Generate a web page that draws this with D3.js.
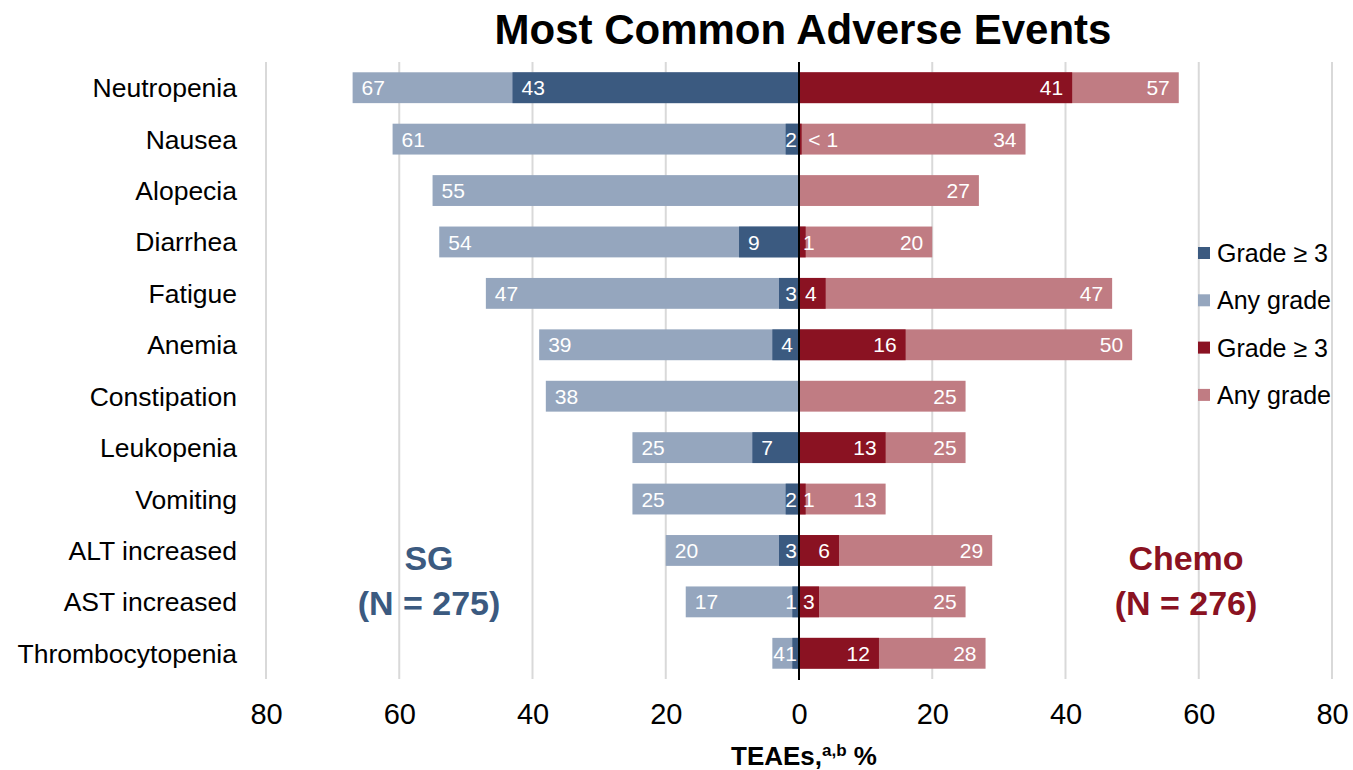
<!DOCTYPE html>
<html>
<head>
<meta charset="utf-8">
<script src="https://cdn.jsdelivr.net/npm/d3@7"></script>
<style>
  body { margin: 0; background: #fff; }
  text { font-family: "Liberation Sans", Arial, sans-serif; }
</style>
</head>
<body>
<div id="chart"></div>
<script>
// adverse events, top to bottom
const categories = ['Neutropenia', 'Nausea', 'Alopecia', 'Diarrhea', 'Fatigue', 'Anemia',
  'Constipation', 'Leukopenia', 'Vomiting', 'ALT increased', 'AST increased', 'Thrombocytopenia'];
const sgAny = [67, 61, 55, 54, 47, 39, 38, 25, 25, 20, 17, 4];
const sgG3 = [43, 2, 0, 9, 3, 4, 0, 7, 2, 3, 1, 1];
const chemoG3 = [41, 0.4, 0, 1, 4, 16, 0, 13, 1, 6, 3, 12];
const chemoG3Labels = ['41', '< 1', '', '1', '4', '16', '', '13', '1', '6', '3', '12'];
const chemoAny = [57, 34, 27, 20, 47, 50, 25, 25, 13, 29, 25, 28];
const ticks = [-80, -60, -40, -20, 0, 20, 40, 60, 80];
const legendItems = ['Grade \u2265 3', 'Any grade', 'Grade \u2265 3', 'Any grade'];

const col = { sgDark: '#3b5a80', sgLight: '#95a6be', chDark: '#8a1222', chLight: '#c07c83' };
const legendColors = [col.sgDark, col.sgLight, col.chDark, col.chLight];

const width = 1353, height = 770;
const svg = d3.select('#chart').append('svg')
  .attr('width', width).attr('height', height);

const x = d3.scaleLinear().domain([-80, 80]).range([266, 1332]);
const y = d3.scaleBand().domain(categories).range([62, 679])
  .paddingInner(0.4).paddingOuter(0.2);

// grid
svg.append('g').selectAll('line')
  .data(ticks.filter(t => t !== 0))
  .join('line')
  .attr('x1', d => x(d)).attr('x2', d => x(d))
  .attr('y1', 62).attr('y2', 679)
  .attr('stroke', '#d9d9d9').attr('stroke-width', 2);

const rows = categories.map((c, i) => ({
  cat: c, sgAny: sgAny[i], sgG3: sgG3[i], chG3: chemoG3[i], chAny: chemoAny[i], chLab: chemoG3Labels[i]
}));

const bh = y.bandwidth();
const bars = svg.append('g');
// any grade first, grade >= 3 on top
bars.selectAll('.sga').data(rows).join('rect')
  .attr('x', d => x(-d.sgAny)).attr('y', d => y(d.cat))
  .attr('width', d => x(0) - x(-d.sgAny)).attr('height', bh).attr('fill', col.sgLight);
bars.selectAll('.cha').data(rows).join('rect')
  .attr('x', x(0)).attr('y', d => y(d.cat))
  .attr('width', d => x(d.chAny) - x(0)).attr('height', bh).attr('fill', col.chLight);
bars.selectAll('.sg3').data(rows.filter(d => d.sgG3 > 0)).join('rect')
  .attr('x', d => x(-d.sgG3)).attr('y', d => y(d.cat))
  .attr('width', d => x(0) - x(-d.sgG3)).attr('height', bh).attr('fill', col.sgDark);
bars.selectAll('.ch3').data(rows.filter(d => d.chG3 > 0)).join('rect')
  .attr('x', x(0)).attr('y', d => y(d.cat))
  .attr('width', d => x(d.chG3) - x(0)).attr('height', bh).attr('fill', col.chDark);

// value labels
const fs = 21, cw = 11.7, pad = 9;
const labels = svg.append('g').attr('fill', '#fff').attr('font-size', fs);
function addLabel(px, anchor, txt, cat) {
  labels.append('text').attr('x', px).attr('y', y(cat) + bh / 2).attr('dy', '0.36em')
    .attr('text-anchor', anchor).text(txt);
}
rows.forEach(d => {
  // SG side: grade >= 3 label first so any-grade label can avoid it
  let limit = x(0) - 2;
  if (d.sgG3 > 0) {
    const t = String(d.sgG3), w = t.length * cw;
    let px = x(-d.sgG3) + pad;
    if (px + w > x(0) - 2) px = x(0) - 2 - w;
    addLabel(px, 'start', t, d.cat);
    limit = px - 1;
  }
  {
    const t = String(d.sgAny), w = t.length * cw;
    let px = x(-d.sgAny) + pad;
    if (px + w > limit) px = Math.max(x(-d.sgAny) + 1, limit - w);
    addLabel(px, 'start', t, d.cat);
  }
  // Chemo side
  {
    const t = String(d.chAny), w = t.length * cw;
    addLabel(Math.max(x(d.chAny) - pad, x(0) + 4 + w), 'end', t, d.cat);
  }
  if (d.chLab) {
    const t = d.chLab, w = t.length * cw;
    let px = x(d.chG3) - pad;
    if (px - w < x(0) + 3) px = x(0) + 4 + w;
    addLabel(px, 'end', t, d.cat);
  }
});

// zero line
svg.append('line').attr('x1', x(0)).attr('x2', x(0)).attr('y1', 62).attr('y2', 680)
  .attr('stroke', '#000').attr('stroke-width', 2);

// category labels
svg.append('g').selectAll('text').data(categories).join('text')
  .attr('x', 237).attr('y', d => y(d) + bh / 2).attr('dy', '0.36em')
  .attr('text-anchor', 'end').attr('font-size', 26.5).attr('fill', '#000')
  .text(d => d);

// x axis tick labels
const xAxis = d3.axisBottom(x).tickValues(ticks).tickFormat(d => Math.abs(d)).tickSize(0).tickPadding(0);
const ax = svg.append('g').attr('transform', 'translate(0,703)').call(xAxis);
ax.select('.domain').remove();
ax.selectAll('text').attr('font-size', 29).attr('fill', '#000')
  .attr('font-family', '"Liberation Sans", Arial, sans-serif');

// axis title
const at = svg.append('text').attr('x', 804).attr('y', 765).attr('text-anchor', 'middle')
  .attr('font-size', 26).attr('font-weight', 'bold').attr('fill', '#000');
at.append('tspan').text('TEAEs,');
at.append('tspan').attr('font-size', 17).attr('dy', -9).text('a,b');
at.append('tspan').attr('dy', 9).text(' %');

// title
svg.append('text').attr('x', 803).attr('y', 44).attr('text-anchor', 'middle')
  .attr('font-size', 42).attr('font-weight', 'bold').attr('fill', '#000')
  .text('Most Common Adverse Events');

// group labels
const grp = [
  { t1: 'SG', t2: '(N = 275)', cx: 429, c: col.sgDark },
  { t1: 'Chemo', t2: '(N = 276)', cx: 1186, c: col.chDark }
];
grp.forEach(g => {
  svg.append('text').attr('x', g.cx).attr('y', 570).attr('text-anchor', 'middle')
    .attr('font-size', 34).attr('font-weight', 'bold').attr('fill', g.c).text(g.t1);
  svg.append('text').attr('x', g.cx).attr('y', 615).attr('text-anchor', 'middle')
    .attr('font-size', 34).attr('font-weight', 'bold').attr('fill', g.c).text(g.t2);
});

// legend
const lg = svg.append('g').selectAll('g').data(legendItems).join('g')
  .attr('transform', (d, i) => `translate(1198,${253 + i * 47.3})`);
lg.append('rect').attr('x', 0).attr('y', -6).attr('width', 12).attr('height', 12)
  .attr('fill', (d, i) => legendColors[i]);
lg.append('text').attr('x', 19).attr('dy', '0.36em').attr('font-size', 25)
  .attr('fill', '#000').text(d => d);
</script>
</body>
</html>
